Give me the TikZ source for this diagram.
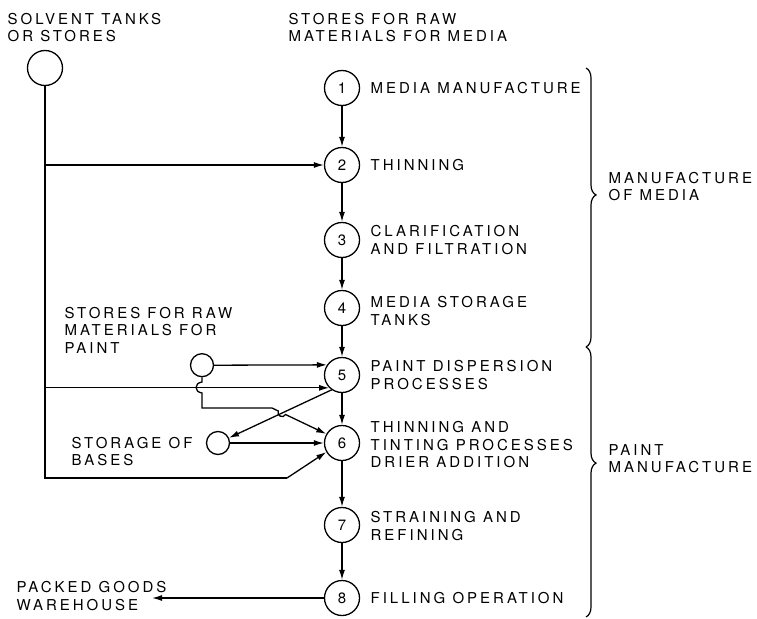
\documentclass[tikz,border=0pt]{standalone}
\usepackage{fontspec}
\setmainfont{TeX Gyre Heros}[LetterSpace=20]
\newfontfamily\numfont{TeX Gyre Heros}
\usetikzlibrary{arrows.meta,decorations.pathreplacing}

\begin{document}
\begin{tikzpicture}[x=1pt,y=-1pt,line width=1.3pt,
  font=\fontsize{15}{17.5}\selectfont,
  stage/.style={circle,draw,minimum size=35pt,inner sep=0pt,
    font=\numfont\fontsize{15}{17.5}\selectfont},
  tank/.style={circle,draw,minimum size=23pt,inner sep=0pt},
  lbl/.style={anchor=west,align=left,inner sep=0pt},
  flow/.style={-{Latex[length=10pt,width=6pt]}},
  grp/.style={decorate,line width=1.2pt,decoration={brace,amplitude=10pt,aspect=#1}}]
\useasboundingbox (0,0) rectangle (757,618);

% process column
\foreach \n/\y in {1/88,2/165,3/240,4/308,5/375,6/443,7/525,8/598}
  \node[stage] (c\n) at (342,\y) {\n};
\foreach \a/\b in {1/2,2/3,3/4,4/5,5/6,6/7,7/8}
  \draw[flow] (c\a) -- (c\b);

\node[lbl] (l1) at (370,88) {MEDIA MANUFACTURE};
\node[lbl] (l2) at (370,165) {THINNING};
\node[lbl] (l3) at (370,240) {CLARIFICATION\\AND FILTRATION};
\node[lbl] (l4) at (370,311) {MEDIA STORAGE\\TANKS};
\node[lbl] (l5) at (370,375) {PAINT DISPERSION\\PROCESSES};
\node[lbl] (l6) at (370,445) {THINNING AND\\TINTING PROCESSES\\DRIER ADDITION};
\node[lbl] (l7) at (370,526) {STRAINING AND\\REFINING};
\node[lbl] (l8) at (370,598) {FILLING OPERATION};

% stores and side labels
\node[lbl] (solvl) at (7,27.5) {SOLVENT TANKS\\OR STORES};
\node[lbl] (medl) at (288,27.5) {STORES FOR RAW\\MATERIALS FOR MEDIA};
\node[lbl] (rawl) at (64,330) {STORES FOR RAW\\MATERIALS FOR\\PAINT};
\node[lbl] (basl) at (71,451.5) {STORAGE OF\\BASES};
\node[lbl] (whl) at (16,596) {PACKED GOODS\\WAREHOUSE};
\node[lbl] (mml) at (608,186.5) {MANUFACTURE\\OF MEDIA};
\node[lbl] (pml) at (608,458.5) {PAINT\\MANUFACTURE};

\node[stage] (solv) at (45,68) {};
\node[tank] (rawp) at (202,365.2) {};
\node[tank] (bases) at (218,443) {};

% solvent feed
\coordinate (s6) at (45,478);
\coordinate (k6) at (287,478);
\draw (solv) -- (s6) -- (k6);
\draw[flow] (k6) -- (c6.210);
\draw[flow] (solv |- c2) -- (c2);
\draw[flow] (solv |- c5.225) -- (c5.225);

% raw materials for paint, with hops over crossing lines
\coordinate (r1) at (202,382);
\coordinate (r2) at (202,393);
\coordinate (r3) at (202,408);
\coordinate (r4) at (272,408);
\coordinate (h1) at (278.3,411);
\coordinate (h2) at (285.5,414.5);
\draw[flow] (rawp.east) -- (c5.146);
\draw[flow] (rawp) -- (r1) .. controls +(-8,1) and +(-8,-1) .. (r2) -- (r3) -- (r4)
  -- (h1) .. controls +(-2.2,4.5) and +(-2.2,4.5) .. (h2) -- (c6.150);

% bases
\draw[flow] (c5.235) -- (bases);
\draw[flow] (bases) -- (c6);

\coordinate (w) at (152,598);
\draw[flow] (c8) -- (w);

\draw[grp=0.455] (586,68) -- (586,347);
\draw[grp=0.43] (586,347) -- (586,617);
\end{tikzpicture}
\end{document}
